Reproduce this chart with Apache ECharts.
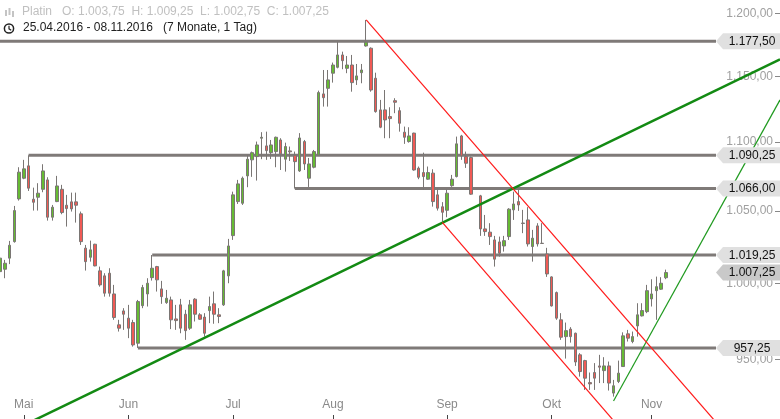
<!DOCTYPE html>
<html>
<head>
<meta charset="utf-8">
<script src="https://cdn.jsdelivr.net/npm/echarts@6/dist/echarts.min.js"></script>
<style>html,body{margin:0;padding:0;background:#fff}#chart{width:780px;height:419px}</style>
</head>
<body>
<div id="chart"></div>
<script>
// ---------- data (prices) ----------
const slotCount = 165;            // weekday slots on the x axis
const gapSlots = [100];           // slot without a candle
const opens = [1007.9,1009.5,1017.1,1028.5,1058.6,1073.5,1082.5,1058.4,1059.8,1065.5,1072.3,1045.6,1056.7,1065.5,1054.1,1056.5,1056.5,1048.0,1024.0,1017.7,1026.7,1008.4,1005.0,1006.8,992.8,972.3,981.5,976.7,973.8,960.3,985.0,992.8,1003.8,1011.3,996.2,987.0,988.8,976.2,985.5,979.3,970.1,989.3,978.9,977.4,981.7,986.2,978.9,985.5,1005.0,1032.7,1056.7,1055.5,1075.2,1086.9,1089.3,1102.9,1097.2,1092.2,1093.0,1101.6,1087.4,1093.5,1090.2,1078.8,1100.4,1073.5,1081.5,1090.5,1136.4,1140.7,1152.4,1157.0,1166.7,1156.2,1158.8,1147.2,1152.8,1173.8,1172.0,1148.5,1124.2,1124.2,1119.1,1131.2,1123.6,1107.4,1100.4,1106.7,1080.8,1077.6,1072.8,1077.2,1061.5,1053.0,1050.5,1068.1,1074.7,1104.6,1089.3,1088.6,1060.8,1037.4,1035.1,1029.7,1028.3,1025.5,1032.0,1050.8,1056.7,1041.5,1043.7,1025.1,1039.5,1027.4,1020.0,1004.3,993.7,975.6,964.6,969.5,966.8,952.8,949.1,935.1,941.5,945.7,942.7,945.7,928.5,935.8,945.3,966.4,961.4,971.6,978.2,981.0,989.5,995.0,996.0,1003.75];
const closes = [1017.1,1013.6,1026.0,1050.3,1077.9,1080.3,1066.3,1056.2,1062.7,1078.8,1045.6,1052.7,1067.9,1048.9,1051.7,1051.5,1054.1,1028.5,1014.7,1022.8,1011.8,998.9,993.3,993.3,977.1,970.1,979.3,970.1,959.2,987.7,997.1,1000.0,1010.2,1002.3,991.0,989.9,975.6,975.1,970.1,968.5,985.5,979.3,976.0,966.8,984.4,979.3,977.8,1008.4,1025.5,1061.5,1069.4,1073.5,1087.4,1092.2,1097.9,1103.6,1093.7,1097.9,1103.6,1091.3,1096.7,1092.8,1085.6,1103.1,1083.9,1083.9,1093.0,1137.4,1133.5,1147.2,1158.8,1166.7,1162.2,1158.8,1145.1,1150.3,1154.9,1176.8,1139.4,1122.9,1111.1,1116.6,1117.6,1130.0,1114.1,1103.6,1104.6,1079.5,1074.2,1074.7,1077.6,1056.7,1052.0,1049.1,1062.7,1072.8,1098.7,1089.8,1084.4,1062.0,1037.4,1035.5,1032.0,1016.4,1020.5,1029.2,1051.3,1055.0,1054.3,1041.2,1026.9,1030.9,1026.9,1027.2,1006.3,984.8,976.7,964.2,968.5,964.6,948.2,942.1,937.9,934.3,937.9,944.9,945.7,934.8,933.1,941.1,965.1,963.6,964.6,978.9,981.7,995.0,992.8,997.7,1000.0,1007.25];
const lows = [1000.0,1003.4,1013.0,1027.8,1057.4,1072.8,1064.3,1050.3,1050.3,1063.4,1043.2,1043.2,1056.3,1047.7,1039.0,1049.6,1041.8,1026.2,1008.6,1014.7,1011.5,997.7,991.0,991.0,975.6,967.9,969.0,963.6,958.1,957.25,983.3,984.4,1001.8,994.4,986.2,986.2,969.5,969.0,966.8,962.5,969.0,974.5,975.6,964.6,973.4,973.0,973.4,984.8,1000.0,1029.7,1055.0,1054.3,1067.0,1074.5,1071.8,1087.4,1086.9,1087.5,1081.5,1079.5,1078.3,1086.1,1066.0,1078.1,1079.5,1067.2,1080.7,1090.0,1126.7,1126.7,1145.1,1156.2,1155.5,1152.4,1138.1,1143.3,1144.6,1173.3,1138.1,1122.1,1110.4,1102.9,1102.9,1121.7,1107.8,1098.7,1099.6,1079.0,1072.8,1065.1,1072.3,1053.1,1050.3,1042.5,1045.6,1067.3,1074.1,1086.9,1081.0,1061.5,1032.5,1032.5,1026.2,1011.3,1018.1,1021.6,1029.7,1043.7,1050.1,1034.4,1025.1,1014.7,1025.1,1026.9,1004.3,984.4,975.6,962.5,950.4,960.7,945.7,938.9,930.5,930.5,930.5,934.8,934.8,930.1,926.3,934.8,945.1,961.4,960.3,964.6,977.8,980.0,984.4,975.6,995.5,1002.75];
const highs = [1018.6,1015.9,1029.0,1053.6,1081.5,1086.9,1090.25,1066.7,1069.9,1083.7,1074.2,1054.3,1075.2,1068.7,1061.5,1063.1,1063.1,1049.6,1026.2,1029.2,1027.0,1011.3,1006.8,1010.2,998.9,975.6,983.3,985.5,975.6,988.8,998.9,1003.4,1019.25,1011.8,1001.6,995.5,991.0,985.5,989.5,982.2,988.8,990.0,980.0,980.0,991.0,994.4,983.3,1009.1,1030.4,1063.8,1072.3,1074.7,1090.5,1093.0,1100.4,1107.4,1107.8,1101.6,1104.1,1102.9,1099.6,1096.7,1093.0,1106.7,1101.6,1088.3,1094.2,1138.9,1154.9,1154.9,1160.7,1177.0,1169.3,1165.9,1166.7,1159.6,1159.6,1194.6,1172.7,1152.8,1131.8,1139.4,1126.2,1133.1,1126.2,1111.6,1111.1,1107.0,1082.0,1092.2,1082.0,1080.0,1066.3,1056.3,1065.5,1075.9,1104.1,1105.4,1093.0,1089.3,1061.5,1047.2,1041.4,1032.5,1032.0,1032.5,1052.0,1063.8,1065.1,1050.8,1052.7,1036.7,1041.4,1041.4,1024.2,1004.7,994.4,980.0,973.8,970.8,967.2,953.9,949.6,941.5,947.5,952.8,951.3,948.5,936.8,949.1,967.4,969.0,967.9,986.6,986.6,998.9,1002.7,1004.5,1004.1,1009.25];

const yTickValues = [950, 1000, 1050, 1100, 1150, 1200];
const yMin = 912.4, yMax = 1210.8;
const monthLabels = ['Mai', 'Jun', 'Jul', 'Aug', 'Sep', 'Okt', 'Nov'];
const monthSlots = [5, 27, 49, 70, 94, 116, 137];

const levelPrices = [1177.5, 1090.25, 1066.0, 1019.25, 957.25];
const levelStartSlots = [0, 6, 62, 32, 29];
const lastPrice = 1007.25;

// trend lines: [slot, price] end points
const greenMain = [[0, 901.5], [164, 1163.3]];
const greenThin = [[129, 923.6], [164, 1131.8]];
const redUpper = [[77, 1194.6], [160, 879.2]];
const redLower = [[93, 1042.0], [140, 874.9]];

// ---------- helpers ----------
const L = Math.log;
function fmt(v) {
  const s = (Math.round(v * 100) / 100).toFixed(2);
  let [i, d] = s.split('.');
  i = i.replace(/\B(?=(\d{3})+(?!\d))/g, '.');
  return i + ',' + d;
}
const FONT = '"Liberation Sans", Arial, sans-serif';

const categories = [];
for (let i = 0; i < slotCount; i++) categories.push(String(i));

const candleSlots = [];
for (let s = 0; candleSlots.length < opens.length; s++) {
  if (gapSlots.indexOf(s) < 0) candleSlots.push(s);
}
const candleData = opens.map((o, k) => [candleSlots[k], L(o), L(closes[k]), L(lows[k]), L(highs[k])]);

const levelData = levelPrices.map((p, k) => [levelStartSlots[k], L(p), p, 0]);
const flagData = levelPrices.map((p) => [0, L(p), p, 0]).concat([[0, L(lastPrice), lastPrice, 1]]);

const toLog = (pts) => pts.map(p => [p[0], L(p[1])]);

const chart = echarts.init(document.getElementById('chart'), null, { renderer: 'canvas' });

chart.setOption({
  animation: false,
  backgroundColor: '#ffffff',
  grid: { left: 0, right: 0, top: 0, bottom: 0, containLabel: false },
  xAxis: {
    type: 'category',
    data: categories,
    boundaryGap: false,
    axisLine: { show: false },
    splitLine: { show: false },
    axisTick: {
      show: true, inside: true, length: 4,
      interval: (i) => monthSlots.indexOf(i) >= 0,
      lineStyle: { color: '#444', width: 1 }
    },
    axisLabel: {
      show: true, inside: true, margin: 8,
      interval: (i) => monthSlots.indexOf(i) >= 0,
      formatter: (v, i) => { const k = monthSlots.indexOf(Number(v)); return k >= 0 ? monthLabels[k] : ''; },
      color: '#8a8a8a', fontSize: 12, fontFamily: FONT
    }
  },
  yAxis: {
    type: 'value',
    position: 'right',
    min: L(yMin), max: L(yMax),
    scale: true,
    splitLine: { show: false },
    axisLine: { show: false },
    axisTick: { show: true, inside: true, length: 5, customValues: yTickValues.map(L), lineStyle: { color: '#888' } },
    axisLabel: {
      show: true, inside: true, margin: 7,
      customValues: yTickValues.map(L),
      formatter: (v) => fmt(Math.round(Math.exp(v))),
      color: '#a0a0a0', fontSize: 12, fontFamily: FONT
    }
  },
  series: [
    {
      type: 'custom',
      name: 'levels',
      z: 2,
      clip: false,
      data: levelData,
      encode: { x: 0, y: 1 },
      renderItem: function (params, api) {
        const cs = params.coordSys;
        const right = cs.x + cs.width;
        const pt = api.coord([api.value(0), api.value(1)]);
        return {
          type: 'line',
          shape: { x1: pt[0], y1: pt[1], x2: right - 64, y2: pt[1] },
          style: { stroke: '#7f7a78', lineWidth: 3 }
        };
      }
    },
    {
      type: 'candlestick',
      name: 'Platin',
      z: 3,
      barWidth: 3,
      data: candleData,
      encode: { x: 0, y: [1, 2, 3, 4] },
      itemStyle: {
        color: '#66bb33',
        color0: '#f05a55',
        borderColor: '#7a7674',
        borderColor0: '#7a7674',
        borderColorDoji: '#7a7674',
        borderWidth: 1
      }
    },
    {
      type: 'line', name: 'trend1', z: 4, data: toLog(greenMain), symbol: 'none',
      lineStyle: { color: '#138a13', width: 2.5 }, silent: true
    },
    {
      type: 'line', name: 'trend2', z: 4, data: toLog(greenThin), symbol: 'none',
      lineStyle: { color: '#1f9a1f', width: 1.2 }, silent: true
    },
    {
      type: 'line', name: 'channel1', z: 4, data: toLog(redUpper), symbol: 'none',
      lineStyle: { color: '#ff1a1a', width: 1.2 }, silent: true
    },
    {
      type: 'line', name: 'channel2', z: 4, data: toLog(redLower), symbol: 'none',
      lineStyle: { color: '#ff1a1a', width: 1.2 }, silent: true
    },
    {
      type: 'custom',
      name: 'flags',
      z: 5,
      clip: false,
      data: flagData,
      encode: { x: 0, y: 1 },
      renderItem: function (params, api) {
        const cs = params.coordSys;
        const right = cs.x + cs.width;
        const y = api.coord([0, api.value(1)])[1];
        const tip = right - 64;
        const cur = api.value(3) === 1;
        return {
          type: 'group',
          children: [
            {
              type: 'polygon',
              shape: { points: [[tip, y], [tip + 7, y - 8], [right, y - 8], [right, y + 8], [tip + 7, y + 8]] },
              style: { fill: cur ? '#c9c9c9' : '#e0e0e0' }
            },
            {
              type: 'text',
              style: {
                text: fmt(api.value(2)), x: right - 28, y: y + 0.5,
                align: 'center', verticalAlign: 'middle',
                fill: '#111', font: '12px ' + FONT
              }
            }
          ]
        };
      }
    }
  ],
  graphic: [
    { type: 'rect', shape: { x: 5, y: 10, width: 2, height: 6 }, style: { fill: '#c4c4c4' }, z: 10 },
    { type: 'rect', shape: { x: 8.5, y: 8, width: 2, height: 7 }, style: { fill: '#c4c4c4' }, z: 10 },
    { type: 'rect', shape: { x: 12, y: 11, width: 2, height: 6 }, style: { fill: '#c4c4c4' }, z: 10 },
    {
      type: 'text', left: 22, top: 6, z: 10,
      style: { text: 'Platin   O: 1.003,75  H: 1.009,25  L: 1.002,75  C: 1.007,25', fill: '#c0c0c0', font: '12px ' + FONT }
    },
    { type: 'circle', shape: { cx: 9, cy: 28.5, r: 4.6 }, style: { fill: 'none', stroke: '#222', lineWidth: 1.5 }, z: 10 },
    { type: 'polyline', shape: { points: [[9, 25.8], [9, 28.8], [11.2, 30.2]] }, style: { fill: 'none', stroke: '#222', lineWidth: 1.2 }, z: 10 },
    {
      type: 'text', left: 23, top: 21.5, z: 10,
      style: { text: '25.04.2016 - 08.11.2016   (7 Monate, 1 Tag)', fill: '#222', font: '12px ' + FONT }
    }
  ]
});
</script>
</body>
</html>
